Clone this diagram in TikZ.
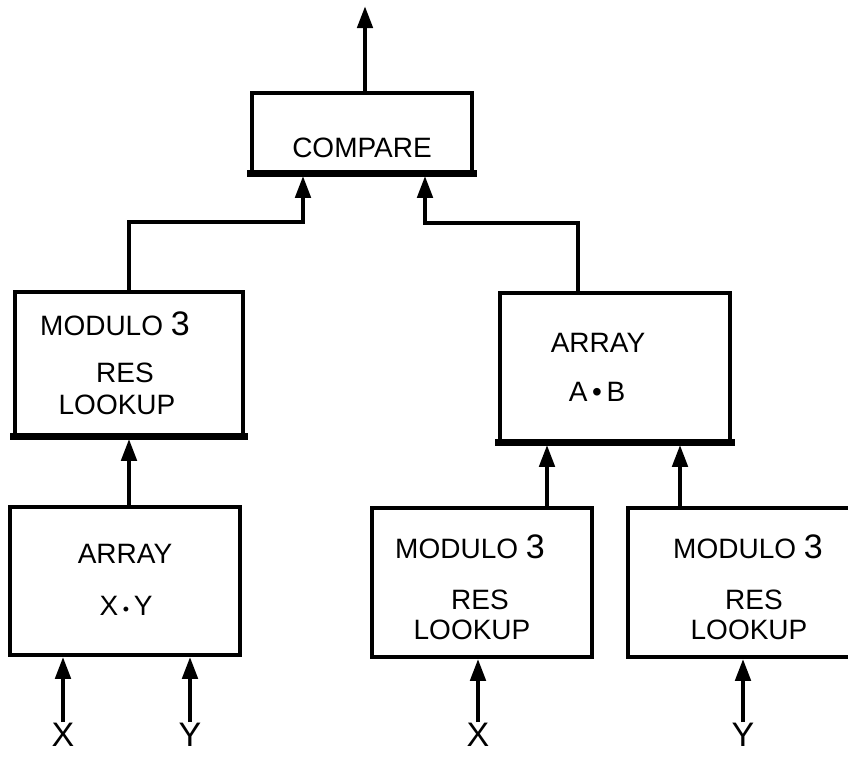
\documentclass[tikz,border=0pt]{standalone}
\usepackage{fontspec}
\setmainfont{Liberation Sans}
\usetikzlibrary{arrows.meta}
\begin{document}
\begin{tikzpicture}[x=1pt,y=-1pt,
  box/.style={draw, line width=3.5pt, rectangle, inner sep=0pt},
  thickbot/.style={line width=7pt, line cap=rect},
  lbl/.style={inner sep=0pt, font=\fontsize{28}{30}\selectfont, text depth=0pt},
  io/.style={inner sep=1pt, font=\fontsize{34}{36}\selectfont, text depth=0pt},
  arr/.style={line width=4.5pt, -{Triangle[length=22pt,width=15pt]}},
  wire/.style={line width=4.5pt}]
\useasboundingbox (0,0) rectangle (848,756);
\clip (0,0) rectangle (848,756);

% boxes
\node[box, minimum width=220pt, minimum height=81pt] (cmp) at (362,133.5) {};
\node[box, minimum width=228pt, minimum height=145pt] (modL) at (129,364.5) {};
\node[box, minimum width=230pt, minimum height=150pt] (ab) at (615,368) {};
\node[box, minimum width=230pt, minimum height=148pt] (xy) at (125,581) {};
\node[box, minimum width=220pt, minimum height=149pt] (modA) at (482,582.5) {};
\node[box, minimum width=226pt, minimum height=149pt] (modB) at (741,582.5) {};

% thick bottoms
\draw[thickbot] ([yshift=2pt]cmp.south west) -- ([yshift=2pt]cmp.south east);
\draw[thickbot] ([yshift=2pt]modL.south west) -- ([yshift=2pt]modL.south east);
\draw[thickbot] ([yshift=2pt]ab.south west) -- ([yshift=2pt]ab.south east);

% texts
\node[lbl] (tcmp) at (362,148) {COMPARE};
\node[lbl] (tmodL) at (115,324) {MODULO {\fontsize{34}{34}\selectfont 3}};
\node[lbl] (tresL) at (125,373) {RES};
\node[lbl] (tlkL) at (117,405) {LOOKUP};
\node[lbl] (tarAB) at (598,343) {ARRAY};
\node[lbl] (tAB) at (597,392) {A\,•\,B};
\node[lbl] (tarXY) at (125,554) {ARRAY};
\node[lbl] (tXY) at (126,606) {X\,{\fontsize{18}{18}\selectfont•}\,Y};
\node[lbl] (tmodA) at (470,547) {MODULO {\fontsize{34}{34}\selectfont 3}};
\node[lbl] (tresA) at (480,600) {RES};
\node[lbl] (tlkA) at (472,630) {LOOKUP};
\node[lbl] (tmodB) at (748,547) {MODULO {\fontsize{34}{34}\selectfont 3}};
\node[lbl] (tresB) at (754,600) {RES};
\node[lbl] (tlkB) at (749,630) {LOOKUP};

% input labels
\node[io] (x1) at (63,735) {X};
\node[io] (y1) at (190,735) {Y};
\node[io] (x2) at (478,735) {X};
\node[io] (y2) at (743,735) {Y};

% input arrows
\draw[arr] (x1.north) -- (x1.north |- xy.south);
\draw[arr] (y1.north) -- (y1.north |- xy.south);
\draw[arr] (x2.north) -- (x2.north |- modA.south);
\draw[arr] (y2.north) -- (y2.north |- modB.south);

% inner arrows
\draw[arr] (xy.north -| modL.south) -- (modL.south);
\coordinate (c1) at (547,0);
\coordinate (c2) at (680,0);
\draw[arr] (modA.north -| c1) -- (ab.south -| c1);
\draw[arr] (modB.north -| c2) -- (ab.south -| c2);

% to compare
\coordinate (j1) at (303,222);
\coordinate (j2) at (425,223);
\coordinate (k2) at (578,223);
\draw[arr, line join=miter] (modL.north) |- (j1) -- (j1 |- cmp.south);
\draw[arr, line join=miter] (k2 |- ab.north) -- (k2) -- (j2) -- (j2 |- cmp.south);

% output
\coordinate (out) at (365,6);
\draw[arr] (cmp.north -| out) -- (out);
\end{tikzpicture}
\end{document}
